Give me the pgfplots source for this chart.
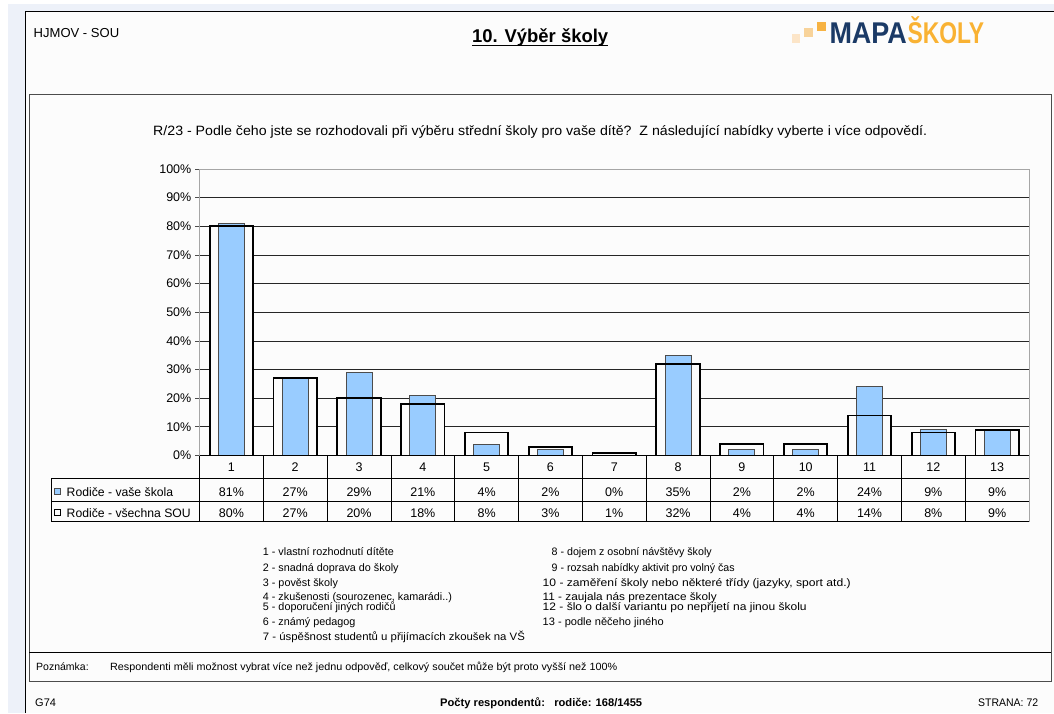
\documentclass[border=0pt]{standalone}
\usepackage{pgfplots}
\pgfplotsset{compat=1.18}
\usepackage{fontspec}
\setmainfont{Liberation Sans}
\usepackage{graphicx}
\definecolor{outerbg}{HTML}{EDF1F9}
\definecolor{pagebg}{HTML}{FCFCFC}
\definecolor{barblue}{HTML}{99CCFF}
\definecolor{navy}{HTML}{1B3A66}
\definecolor{logoorange}{HTML}{F9B233}
\definecolor{peachA}{HTML}{FCE5C8}
\definecolor{peachB}{HTML}{F8D39A}
\definecolor{sqorange}{HTML}{F7B343}
\newcommand{\fs}[1]{\fontsize{#1}{#1}\selectfont}
\newcommand{\hfit}[2]{\resizebox{#1}{\height}{#2}}

\begin{document}
\begin{tikzpicture}
\begin{scope}[x=1pt,y=-1pt]
  \useasboundingbox (0,0) rectangle (1054,713);
  \fill[white] (0,0) rectangle (1054,713);
  \fill[outerbg] (8,4) rectangle (1054,713);
  \fill[pagebg] (25,11) rectangle (1054,713);
  \draw[black, line width=1pt] (25,713) -- (25,11) -- (1054,11);
  % inner chart box
  \draw[gray!60!black, line width=1pt] (29,94) rectangle (1051,681);
  \draw[black, line width=0.9pt] (29,652.3) -- (1051,652.3);
  % header
  \node[anchor=base west, inner sep=0] at (33.5,37.3) {\hfit{85.5pt}{\fs{13}HJMOV - SOU}};
  \node[anchor=base west, inner sep=0] at (472,42.7) {\hfit{136pt}{\fs{18.5}\bfseries 10. Výběr školy}};
  \draw[line width=1.1pt] (472,45.8) -- (608,45.8);
  % logo
  \fill[peachA] (791.5,34) rectangle (800,42.5);
  \fill[peachB] (804,27.5) rectangle (813,36.5);
  \fill[sqorange] (817.3,22) rectangle (826,30.7);
  \node[anchor=base west, inner sep=0, text=navy] at (829.3,43.3) {\hfit{77.4pt}{\fs{30}\bfseries MAPA}};
  \node[anchor=base west, inner sep=0, text=logoorange] at (907.3,43.3) {\hfit{76.7pt}{\fs{30}\bfseries ŠKOLY}};
  % question
  \node[anchor=base west, inner sep=0] at (153,135) {\hfit{774pt}{\fs{13.5}R/23 - Podle čeho jste se rozhodovali při výběru střední školy pro vaše dítě?~~Z následující nabídky vyberte i více odpovědí.}};
\end{scope}

\begin{axis}[
  at={(199.5pt,-455.5pt)}, anchor=south west,
  width=829.5pt, height=286.5pt, scale only axis,
  xmin=0.5, xmax=13.5, ymin=0, ymax=100,
  xtick=\empty,
  ytick={0,10,...,100},
  yticklabel={\pgfmathprintnumber{\tick}\%},
  /pgf/number format/assume math mode=true,
  yticklabel style={font=\fs{12.5}, inner sep=0pt, xshift=-3.5pt},
  ytick pos=left, tick align=outside, major tick length=4.5pt,
  tick style={gray!60!black, line width=0.8pt},
  ymajorgrids, grid style={black!85, line width=0.8pt},
  axis line style={gray!70, line width=1pt},
  clip=false,
]
% white backing of the "všechna SOU" bars (hides gridlines)
\addplot[ybar, bar width=43.4pt, bar shift=0pt, fill=pagebg, draw=none]
  coordinates {(1,80)(2,27)(3,20)(4,18)(5,8)(6,3)(7,1)(8,32)(9,4)(10,4)(11,14)(12,8)(13,9)};
% Rodiče - vaše škola
\addplot[ybar, bar width=26pt, bar shift=0pt, fill=barblue, draw=gray!60!black, line width=0.8pt]
  coordinates {(1,81)(2,27)(3,29)(4,21)(5,4)(6,2)(7,0)(8,35)(9,2)(10,2)(11,24)(12,9)(13,9)};
% Rodiče - všechna SOU (outline)
\addplot[ybar, bar width=43.4pt, bar shift=0pt, fill=none, draw=black, line width=1.8pt]
  coordinates {(1,80)(2,27)(3,20)(4,18)(5,8)(6,3)(7,1)(8,32)(9,4)(10,4)(11,14)(12,8)(13,9)};
\end{axis}

\begin{scope}[x=1pt,y=-1pt]
  % data table
  \draw[black, line width=0.8pt] (199.5,455.5) -- (1029,455.5);
  \draw[black, line width=0.8pt] (51.7,478) -- (1029,478);
  \draw[black, line width=0.8pt] (51.7,501.7) -- (1029,501.7);
  \draw[black, line width=0.8pt] (51.7,521.7) -- (1029,521.7);
  \draw[black, line width=0.8pt] (51.7,478) -- (51.7,521.7);
  \foreach \k in {0,...,12} {
    \pgfmathsetmacro\lx{199.5+63.81*\k}
    \draw[black, line width=0.8pt] (\lx,455.5) -- (\lx,521.7);
  }
  \draw[gray!70, line width=1pt] (1029,455.5) -- (1029,521.7);
  \foreach \i in {1,...,13} {
    \pgfmathsetmacro\cx{199.5+63.81*(\i-0.5)}
    \node[anchor=base, inner sep=0] at (\cx,471) {\fs{12.5}\i};
  }
  \foreach \v [count=\i] in {81,27,29,21,4,2,0,35,2,2,24,9,9} {
    \pgfmathsetmacro\cx{199.5+63.81*(\i-0.5)}
    \node[anchor=base, inner sep=0] at (\cx,496.2) {\fs{12.5}\v\%};
  }
  \foreach \v [count=\i] in {80,27,20,18,8,3,1,32,4,4,14,8,9} {
    \pgfmathsetmacro\cx{199.5+63.81*(\i-0.5)}
    \node[anchor=base, inner sep=0] at (\cx,517) {\fs{12.5}\v\%};
  }
  % legend keys
  \filldraw[fill=barblue, draw=gray!60!black, line width=0.8pt] (54.5,488.5) rectangle (60.5,494.5);
  \draw[black, line width=1.5pt] (54.5,509.5) rectangle (60.5,515.5);
  \node[anchor=base west, inner sep=0] at (66.5,496.2) {\fs{12.2}Rodiče - vaše škola};
  \node[anchor=base west, inner sep=0] at (66.5,517) {\fs{12.2}Rodiče - všechna SOU};
  % item list
  \begin{scope}[every node/.style={anchor=base west, inner sep=0, font=\fs{10.8}}]
  \node at (262.7,555.8) {1 - vlastní rozhodnutí dítěte};
  \node at (262.7,571.3) {2 - snadná doprava do školy};
  \node at (262.7,586.3) {3 - pověst školy};
  \node at (262.7,600.8) {4 - zkušenosti (sourozenec, kamarádi..)};
  \node at (262.7,610.3) {5 - doporučení jiných rodičů};
  \node at (262.7,625.3) {6 - známý pedagog};
  \node at (262.7,640.3) {\hfit{262pt}{7 - úspěšnost studentů u přijímacích zkoušek na VŠ}};
  \node at (551.5,555.8) {\hfit{160pt}{8 - dojem z osobní návštěvy školy}};
  \node at (551.5,571.3) {\hfit{183pt}{9 - rozsah nabídky aktivit pro volný čas}};
  \node at (542.5,586.3) {\hfit{308pt}{10 - zaměření školy nebo některé třídy (jazyky, sport atd.)}};
  \node at (542.5,600.8) {\hfit{174pt}{11 - zaujala nás prezentace školy}};
  \node at (542.5,610.3) {\hfit{264pt}{12 - šlo o další variantu po nepřijetí na jinou školu}};
  \node at (542.5,625.3) {\hfit{121pt}{13 - podle něčeho jiného}};
  \end{scope}
  % note
  \node[anchor=base west, inner sep=0] at (36,670.5) {\fs{10.5}Poznámka:};
  \node[anchor=base west, inner sep=0] at (110,670.5) {\hfit{507pt}{\fs{10.5}Respondenti měli možnost vybrat více než jednu odpověď, celkový součet může být proto vyšší než 100\%}};
  % footer
  \node[anchor=base west, inner sep=0] at (35,706) {\fs{11}G74};
  \node[anchor=base west, inner sep=0] at (440,706) {\hfit{202pt}{\fs{11}\bfseries Počty respondentů:~~~rodiče: 168/1455}};
  \node[anchor=base west, inner sep=0] at (978,706) {\hfit{60pt}{\fs{11}STRANA: 72}};
\end{scope}
\end{tikzpicture}
\end{document}
